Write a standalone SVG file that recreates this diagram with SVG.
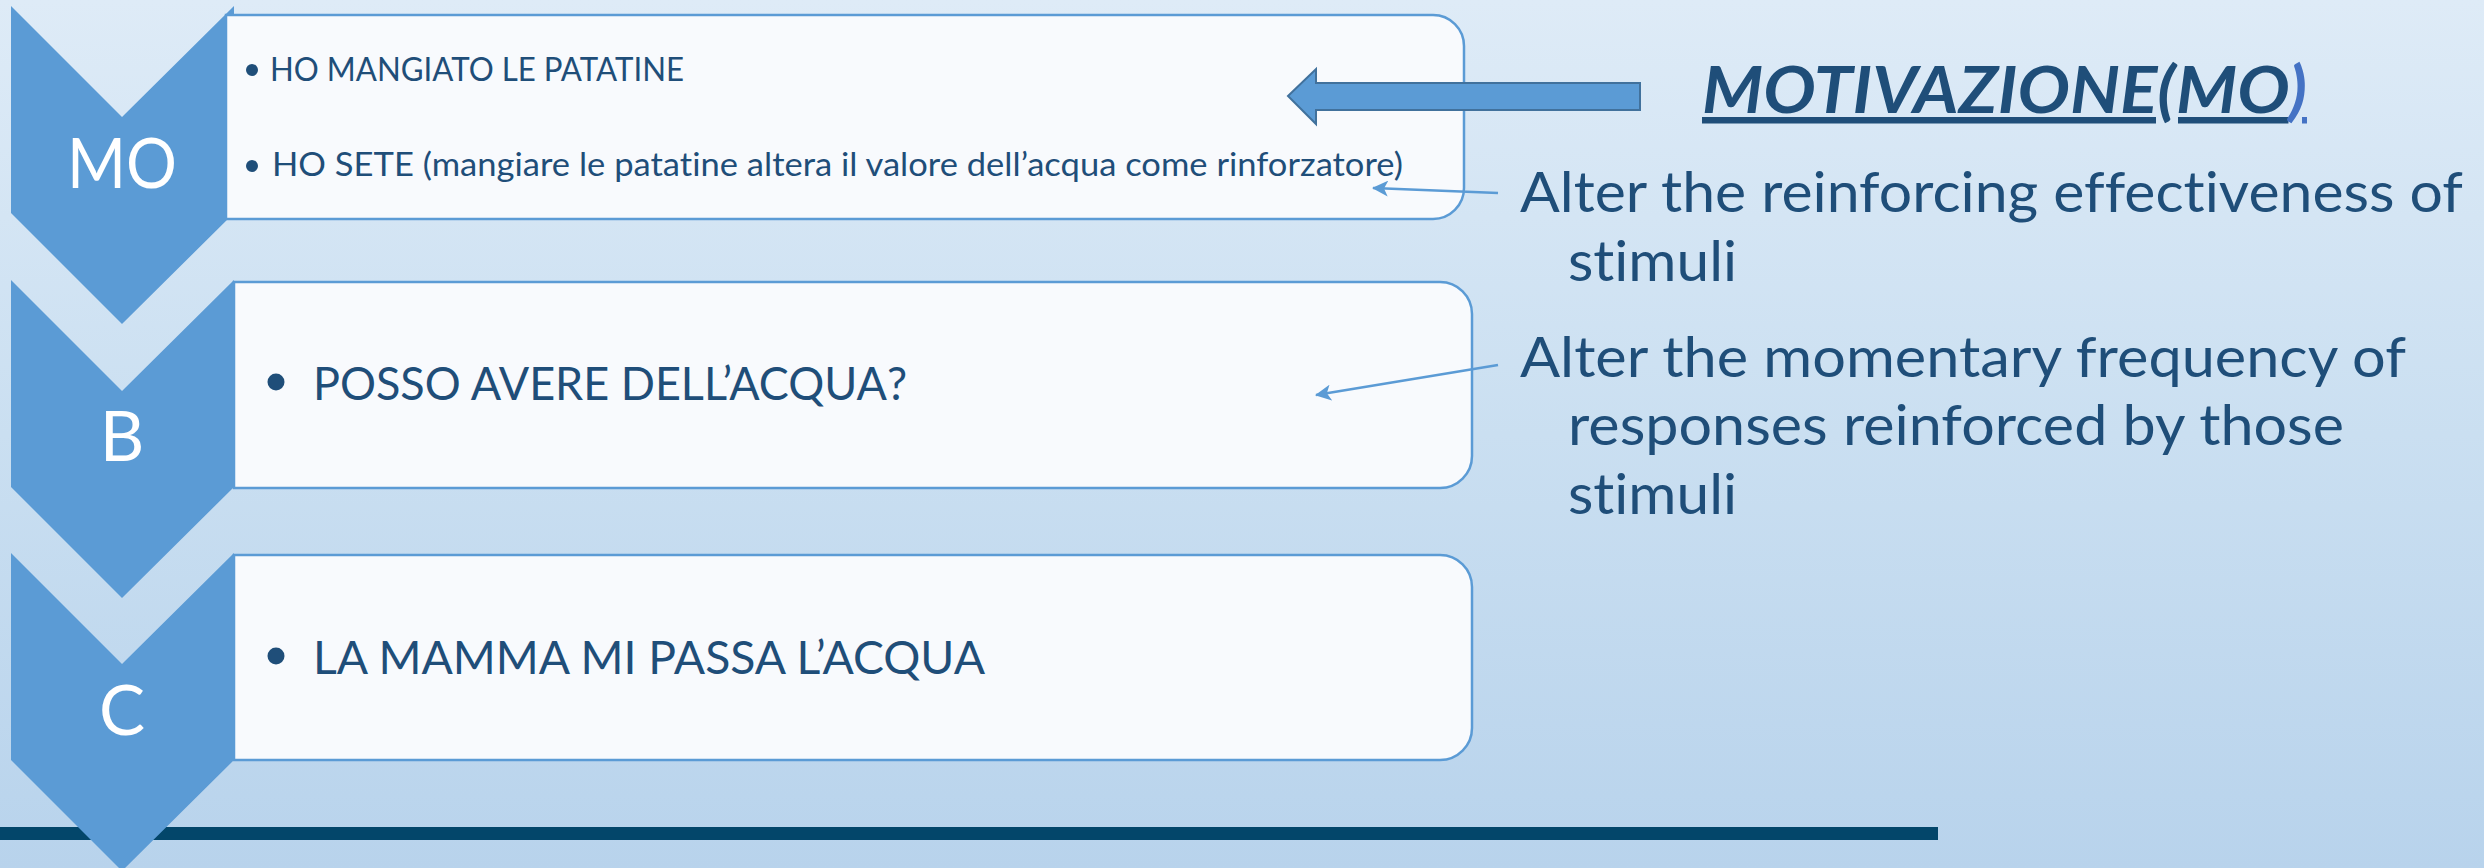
<svg xmlns="http://www.w3.org/2000/svg" width="2484" height="868" viewBox="0 0 2484 868">
  <defs>
    <linearGradient id="bg" x1="0" y1="0" x2="0" y2="1">
      <stop offset="0" stop-color="#DEEBF7"/>
      <stop offset="0.5" stop-color="#CADFF1"/>
      <stop offset="1" stop-color="#B8D3EC"/>
    </linearGradient>
    <marker id="ah" viewBox="0 0 16 16" refX="15" refY="8" markerWidth="16" markerHeight="16" markerUnits="userSpaceOnUse" orient="auto">
      <path d="M0,0 L16,8 L0,16 L4,8 Z" fill="#5B9BD5"/>
    </marker>
    <style>
      text { font-variant-ligatures: none; }
      .chev { fill: #5B9BD5; }
      .box { fill: #F8FAFD; stroke: #5B9BD5; stroke-width: 2.5; }
      .letter { font-family: Lato, "Open Sans", sans-serif; fill: #FFFFFF; font-size: 69px; text-anchor: middle; }
      .item { font-family: Lato, "Open Sans", sans-serif; fill: #1F4E79; }
      .small { font-size: 32px; }
      .big { font-size: 46px; }
      .desc { font-family: Lato, "Open Sans", sans-serif; fill: #1F4E79; font-size: 56px; }
      .dot { fill: #1F4E79; }
      .thin { stroke: #5B9BD5; stroke-width: 2.5; fill: none; marker-end: url(#ah); }
    </style>
  </defs>

  <rect x="0" y="0" width="2484" height="868" fill="url(#bg)"/>

  <rect id="bottom-bar" x="0" y="827" width="1938" height="13" fill="#03466A"/>

  <g id="chevron-mo">
    <polygon class="chev" points="11,6 122,117 234,6 234,213 122,324 11,213"/>
  </g>
  <g id="chevron-b">
    <polygon class="chev" points="11,280 122,391 234,280 234,487 122,598 11,487"/>
  </g>
  <g id="chevron-c">
    <polygon class="chev" points="11,553 122,664 234,553 234,760 122,871 11,760"/>
  </g>

  <g id="box-mo">
    <path class="box" d="M226,15 H1433 A31,31 0 0 1 1464,46 V188 A31,31 0 0 1 1433,219 H226 Z"/>
    <circle class="dot" cx="252" cy="70" r="6"/>
    <text class="item small" x="270" y="81" textLength="414" lengthAdjust="spacingAndGlyphs">HO MANGIATO LE PATATINE</text>
    <circle class="dot" cx="252" cy="166" r="6"/>
    <text class="item small" x="272" y="176" textLength="1131" lengthAdjust="spacingAndGlyphs">HO SETE (mangiare le patatine altera il valore dell’acqua come rinforzatore)</text>
  </g>
  <g id="label-mo">
    <text class="letter" x="122" y="188" textLength="110" lengthAdjust="spacingAndGlyphs">MO</text>
  </g>

  <g id="box-b">
    <path class="box" d="M234,282 H1440 A32,32 0 0 1 1472,314 V456 A32,32 0 0 1 1440,488 H234 Z"/>
    <circle class="dot" cx="276" cy="382" r="8.5"/>
    <text class="item big" x="313" y="400" textLength="594" lengthAdjust="spacingAndGlyphs">POSSO AVERE DELL’ACQUA?</text>
  </g>
  <g id="label-b">
    <text class="letter" x="122" y="461">B</text>
  </g>

  <g id="box-c">
    <path class="box" d="M234,555 H1440 A32,32 0 0 1 1472,587 V728 A32,32 0 0 1 1440,760 H234 Z"/>
    <circle class="dot" cx="276" cy="656" r="8.5"/>
    <text class="item big" x="313" y="674" textLength="672" lengthAdjust="spacingAndGlyphs">LA MAMMA MI PASSA L’ACQUA</text>
  </g>
  <g id="label-c">
    <text class="letter" x="122" y="735">C</text>
  </g>

  <g id="title">
    <text x="1702" y="113" font-family="Lato, 'Open Sans', sans-serif" font-size="65" font-weight="bold" font-style="italic" fill="#1F4E79" textLength="605" lengthAdjust="spacingAndGlyphs"><tspan text-decoration="underline">MOTIVAZIONE(MO</tspan><tspan fill="#4472C4" text-decoration="underline">)</tspan></text>
  </g>

  <g id="desc-1">
    <text class="desc" x="1520" y="212" textLength="943" lengthAdjust="spacingAndGlyphs">Alter the reinforcing effectiveness of</text>
    <text class="desc" x="1568" y="281" textLength="169" lengthAdjust="spacingAndGlyphs">stimuli</text>
  </g>
  <g id="desc-2">
    <text class="desc" x="1520" y="377" textLength="886" lengthAdjust="spacingAndGlyphs">Alter the momentary frequency of</text>
    <text class="desc" x="1568" y="445" textLength="776" lengthAdjust="spacingAndGlyphs">responses reinforced by those</text>
    <text class="desc" x="1568" y="514" textLength="169" lengthAdjust="spacingAndGlyphs">stimuli</text>
  </g>

  <g id="connectors">
    <polygon points="1288,96 1316,69 1316,83 1640,83 1640,110 1316,110 1316,124" fill="#5B9BD5" stroke="#41719C" stroke-width="2"/>
    <line class="thin" x1="1498" y1="193" x2="1373" y2="188"/>
    <line class="thin" x1="1498" y1="365" x2="1316" y2="395"/>
  </g>
</svg>
